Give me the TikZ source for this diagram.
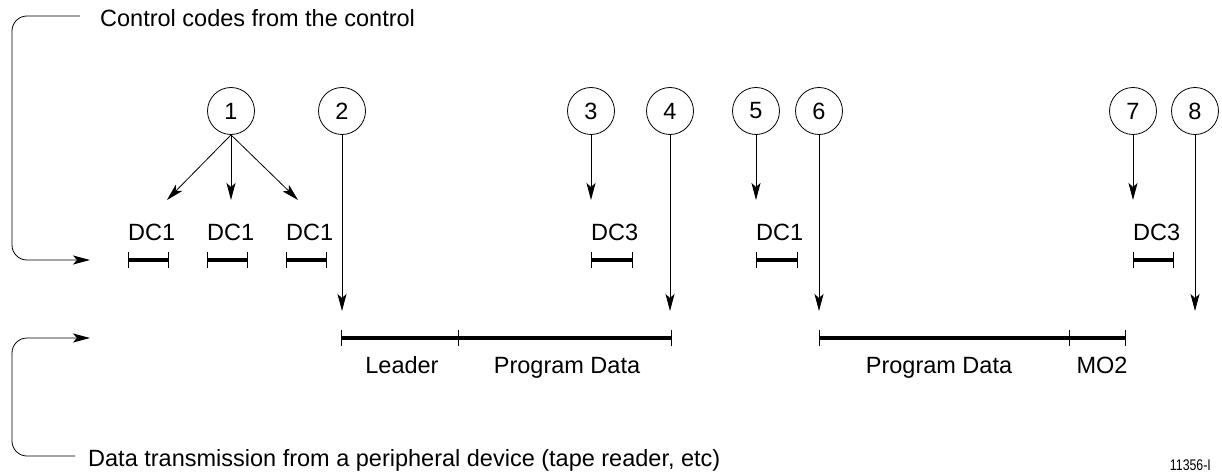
\documentclass[tikz,border=0pt]{standalone}
\usepackage{fontspec}
\setmainfont{Liberation Sans}
\usetikzlibrary{arrows.meta}
\begin{document}
\begin{tikzpicture}[x=1pt,y=-1pt,
  lbl/.style={inner sep=0pt,font=\fontsize{23.5}{28}\selectfont},
  num/.style={circle,draw,line width=0.8pt,minimum size=47pt,inner sep=0pt,font=\fontsize{23.5}{28}\selectfont},
  arr/.style={line width=0.8pt,-{Stealth[length=17pt,width=9pt,inset=4pt]}},
  thin/.style={line width=0.8pt},
  bar/.style={line width=3.2pt},
  tick/.style={line width=0.8pt}]
\useasboundingbox (0,0) rectangle (1222,473);
% brackets
\coordinate (tb0) at (80,16);
\coordinate (tbt) at (90,260);
\draw[arr,rounded corners=15pt] (tb0) -- (12,16) -- (12,260) -- (tbt);
\coordinate (bb0) at (75,456);
\coordinate (bbt) at (90,338);
\draw[arr,rounded corners=15pt] (bb0) -- (12,456) -- (12,338) -- (bbt);
\node[lbl,anchor=base west] (ttop) at (100,27) {Control codes from the control};
\node[lbl,anchor=base west] (tbot) at (88,466) {Data transmission from a peripheral device (tape reader, etc)};
% circles
\node[num] (c1) at (231,111) {1};
\node[num] (c2) at (342,111) {2};
\node[num] (c3) at (591,111) {3};
\node[num] (c4) at (670,111) {4};
\node[num] (c5) at (756,111) {5};
\node[num] (c6) at (819,111) {6};
\node[num] (c7) at (1133,111) {7};
\node[num] (c8) at (1195,111) {8};
% arrow tips
\coordinate (t1a) at (167,200);
\coordinate (t1b) at (231,200);
\coordinate (t1c) at (298,200);
\coordinate (t2) at (342,311);
\coordinate (t3) at (591,200);
\coordinate (t4) at (670,311);
\coordinate (t5) at (756,200);
\coordinate (t6) at (819,311);
\coordinate (t7) at (1133,200);
\coordinate (t8) at (1195,311);
\draw[arr] (c1.south) -- (t1a);
\draw[arr] (c1.south) -- (t1b);
\draw[arr] (c1.south) -- (t1c);
\draw[arr] (c2.south) -- (t2);
\draw[arr] (c3.south) -- (t3);
\draw[arr] (c4.south) -- (t4);
\draw[arr] (c5.south) -- (t5);
\draw[arr] (c6.south) -- (t6);
\draw[arr] (c7.south) -- (t7);
\draw[arr] (c8.south) -- (t8);
% control code segments
\foreach \a/\b/\t/\n in {128/168/DC1/s1, 207/247/DC1/s2, 286/326/DC1/s3, 591/632/DC3/s4, 756/797/DC1/s5, 1133/1173/DC3/s6}{
  \draw[bar] (\a,260) -- (\b,260);
  \draw[tick] (\a,252) -- (\a,268);
  \draw[tick] (\b,252) -- (\b,268);
  \node[lbl,anchor=base west] (\n) at (\a,240) {\t};
}
% data bars
\draw[bar] (341,338) -- (671,338);
\foreach \x in {341,458,671}{\draw[tick] (\x,330) -- (\x,346);}
\draw[bar] (819,338) -- (1125,338);
\foreach \x in {819,1069,1125}{\draw[tick] (\x,330) -- (\x,346);}
\node[lbl,anchor=base] (lead) at (402,373) {Leader};
\node[lbl,anchor=base] (pd1) at (567,373) {Program Data};
\node[lbl,anchor=base] (pd2) at (939,373) {Program Data};
\node[lbl,anchor=base] (mo2) at (1102,373) {MO2};
\node[inner sep=0pt,anchor=base east,font=\fontsize{15.4}{18}\selectfont,xscale=0.8] (fig) at (1211,470) {11356-I};
\end{tikzpicture}
\end{document}
